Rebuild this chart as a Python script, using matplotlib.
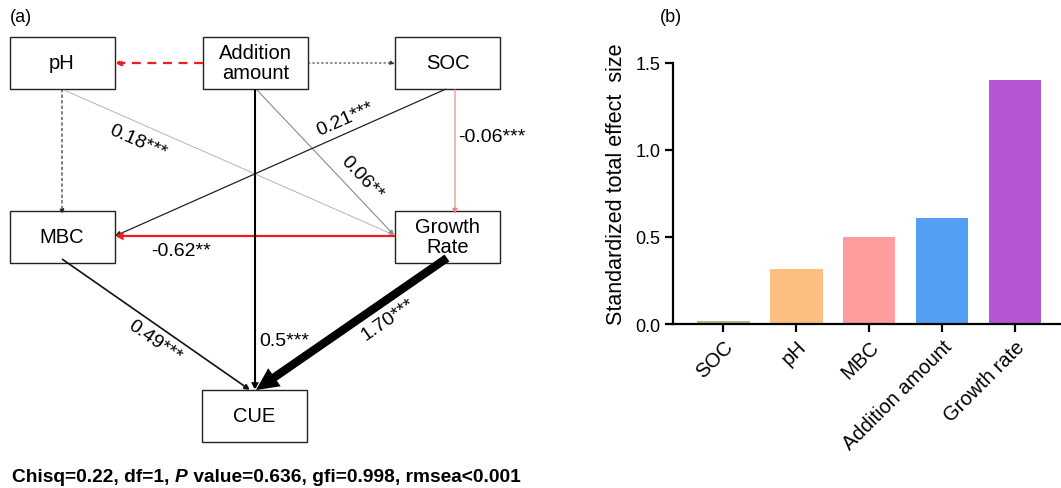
import numpy as np
import matplotlib
matplotlib.use('Agg')
import matplotlib.pyplot as plt

plt.rcParams['font.family'] = ['Liberation Sans', 'DejaVu Sans']

# panel (b) data
factors = ['SOC', 'pH', 'MBC', 'Addition amount', 'Growth rate']
effects = [0.02, 0.315, 0.50, 0.612, 1.405]
bar_colors = ['#b8b484', '#fdbf7f', '#fd9d9e', '#549ff6', '#b655d4']

# panel (a) path model
nodes = ['pH', 'Addition\namount', 'SOC', 'MBC', 'Growth\nRate', 'CUE']
node_xy = {'pH': (62, 63.5), 'Addition\namount': (255.5, 63.5), 'SOC': (447.5, 63.5),
           'MBC': (62, 237.5), 'Growth\nRate': (447.5, 237.5), 'CUE': (254.5, 417)}
box_w, box_h = 105, 52

# (start, end, coefficient label, color, linewidth, linestyle, arrow size)
paths = [
    ((203, 64), (115, 64), '', '#ee1c1c', 1.6, (0, (4, 3)), 9),
    ((308, 64), (395, 64), '', '#333333', 0.8, (0, (2, 2)), 7),
    ((62, 90), (62, 215), '', '#222222', 0.8, (0, (3, 2)), 7),
    ((64, 91), (394, 236), '0.18***', '#b5b5b5', 0.7, '-', 7),
    ((257, 91), (394, 236), '0.06**', '#8a8a8a', 0.8, '-', 7),
    ((446, 90), (115, 237), '0.21***', '#222222', 0.9, '-', 8),
    ((455, 90), (455, 215), '-0.06***', '#ee8080', 0.8, '-', 8),
    ((395, 237), (115, 237), '-0.62**', '#ee1c1c', 1.6, '-', 9),
    ((62, 260), (250, 391), '0.49***', '#111111', 1.2, '-', 8),
    ((255, 90), (255, 391), '0.5***', '#000000', 1.5, '-', 8),
    ((447, 259), (256, 391), '1.70***', '#000000', 6.0, '-', 14),
]
label_pos = {'0.18***': (138, 142, 'c'), '0.06**': (362, 178, 'c'),
             '0.21***': (345, 120, 'c'), '-0.06***': (458, 138, 'l'),
             '-0.62**': (181, 251, 'c'), '0.49***': (155, 342, 'c'),
             '0.5***': (259, 342, 'l'), '1.70***': (388, 320, 'c')}


def draw_path_model(ax):
    ax.set_xlim(0, 1061)
    ax.set_ylim(489, 0)
    ax.axis('off')
    for name in nodes:
        cx, cy = node_xy[name]
        ax.add_patch(plt.Rectangle((cx - box_w / 2, cy - box_h / 2), box_w, box_h,
                                   fill=False, ec='#222222', lw=1.0))
        ax.text(cx, cy, name, ha='center', va='center', fontsize=14.5,
                linespacing=1.05)
    for start, end, lab, col, lw, ls, ms in paths:
        style = '-|>'
        if lw > 4:
            # the big Growth Rate -> CUE arrow has a wider head
            style = '-|>,head_length=0.45,head_width=0.22'
        ax.annotate('', xy=end, xytext=start,
                    arrowprops=dict(arrowstyle=style, color=col, lw=lw, linestyle=ls,
                                    mutation_scale=ms, shrinkA=0, shrinkB=0,
                                    capstyle='butt', joinstyle='miter'))
        if lab:
            lx, ly, al = label_pos[lab]
            dx, dy = end[0] - start[0], end[1] - start[1]
            if dx == 0 or dy == 0:
                rot = 0
            else:
                rot = np.degrees(np.arctan2(-dy, dx))
                if rot > 90:
                    rot -= 180
                if rot < -90:
                    rot += 180
            ax.text(lx, ly, lab, ha='left' if al == 'l' else 'center', va='center',
                    fontsize=14, rotation=rot, rotation_mode='anchor')
    ax.text(10, 17, '(a)', fontsize=13, va='center')


def draw_fit_text(fig, ax):
    pieces = [('Chisq=0.22, df=1, ', 'normal'), ('P', 'italic'),
              (' value=0.636, gfi=0.998, rmsea<0.001', 'normal')]
    fig.canvas.draw()
    r = fig.canvas.get_renderer()
    x = 12
    for s, style in pieces:
        t = ax.text(x, 477, s, fontsize=13.8, fontweight='bold', style=style,
                    va='center', ha='left')
        bb = t.get_window_extent(renderer=r)
        x += bb.width


def draw_bars(fig):
    ax = fig.add_axes([673 / 1061, (489 - 325) / 489, (1061 - 673) / 1061, 261 / 489])
    xs = np.arange(len(factors))
    ax.bar(xs, effects, width=0.72, color=bar_colors)
    ax.set_xlim(-0.69, 4.63)
    ax.set_ylim(0, 1.5)
    ax.set_yticks([0, 0.5, 1.0, 1.5])
    ax.set_yticklabels(['0.0', '0.5', '1.0', '1.5'])
    ax.set_xticks(xs)
    ax.set_xticklabels(factors, rotation=45, ha='right', rotation_mode='anchor')
    ax.spines['right'].set_color('none')
    ax.spines['top'].set_color('none')
    for sp in ['left', 'bottom']:
        ax.spines[sp].set_linewidth(1.6)
    ax.tick_params(labelsize=13, width=1.6, length=6, pad=3)
    ax.tick_params(axis='x', labelsize=14.5)
    ax.set_ylabel('Standardized total effect  size', fontsize=15.5)
    ax.yaxis.set_label_coords(-0.118, 0.54)
    fig.text(660 / 1061, 1 - 18 / 489, '(b)', fontsize=13, va='center')


def main():
    fig = plt.figure(figsize=(10.61, 4.89), dpi=100)
    ax = fig.add_axes([0, 0, 1, 1])
    draw_path_model(ax)
    draw_bars(fig)
    draw_fit_text(fig, ax)
    fig.savefig('out.png', dpi=100)


if __name__ == '__main__':
    main()
